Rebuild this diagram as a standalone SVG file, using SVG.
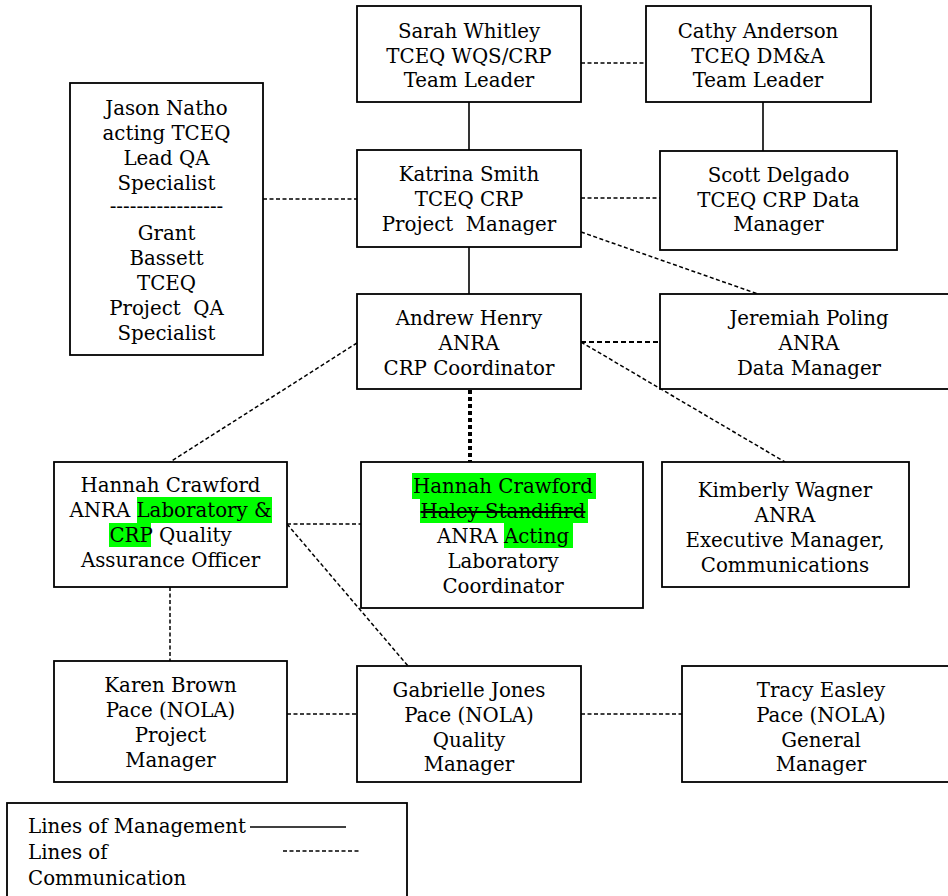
<svg xmlns="http://www.w3.org/2000/svg" width="948" height="896" viewBox="0 0 948 896">
<style>
.box{fill:#fff;stroke:#000;stroke-width:1.8}
.t{font-family:"DejaVu Serif","Liberation Serif",serif;font-size:19.8px;fill:#000;text-anchor:middle}
.lt{font-family:"DejaVu Serif","Liberation Serif",serif;font-size:19.8px;fill:#000}
.mg{stroke:#000;stroke-width:1.6;fill:none}
.cm{stroke:#000;stroke-width:1.5;stroke-dasharray:4 2.5;fill:none}
.cm2{stroke:#000;stroke-width:2.2;stroke-dasharray:5 3;fill:none}
.dot{stroke:#000;stroke-width:4;stroke-dasharray:4 3;fill:none}
.hl{fill:#00ff00}
</style>
<rect width="948" height="896" fill="#fff"/>
<g id="connectors">
<line class="cm" x1="581" y1="63" x2="646" y2="63"/>
<line class="mg" x1="469" y1="102" x2="469" y2="150"/>
<line class="mg" x1="763" y1="102" x2="763" y2="151"/>
<line class="cm" x1="263" y1="199" x2="357" y2="199"/>
<line class="cm" x1="581" y1="198" x2="660" y2="198"/>
<line class="cm" x1="581" y1="232" x2="758" y2="294"/>
<line class="mg" x1="469" y1="247" x2="469" y2="294"/>
<line class="cm2" x1="581" y1="342" x2="660" y2="342"/>
<line class="cm" x1="581" y1="342" x2="785" y2="462"/>
<line class="cm" x1="357" y1="343" x2="170" y2="462"/>
<line class="dot" x1="470" y1="390" x2="470" y2="462"/>
<line class="cm" x1="287" y1="524" x2="361" y2="524"/>
<line class="cm" x1="287" y1="524" x2="408" y2="666"/>
<line class="cm" x1="170" y1="587" x2="170" y2="661"/>
<line class="cm" x1="287" y1="714" x2="357" y2="714"/>
<line class="cm" x1="581" y1="714" x2="682" y2="714"/>
</g>
<g id="sarah">
<rect class="box" x="357" y="6" width="224" height="96"/>
<text class="t" x="469" y="38">Sarah Whitley</text>
<text class="t" x="469" y="63">TCEQ WQS/CRP</text>
<text class="t" x="469" y="87">Team Leader</text>
</g>
<g id="cathy">
<rect class="box" x="646" y="6" width="225" height="96"/>
<text class="t" x="758" y="38">Cathy Anderson</text>
<text class="t" x="758" y="63">TCEQ DM&amp;A</text>
<text class="t" x="758" y="87">Team Leader</text>
</g>
<g id="jason">
<rect class="box" x="70" y="83" width="193" height="272"/>
<text class="t" x="166.5" y="115">Jason Natho</text>
<text class="t" x="166.5" y="140">acting TCEQ</text>
<text class="t" x="166.5" y="165">Lead QA</text>
<text class="t" x="166.5" y="190">Specialist</text>
<text class="t" x="166.5" y="213">-----------------</text>
<text class="t" x="166.5" y="240">Grant</text>
<text class="t" x="166.5" y="265">Bassett</text>
<text class="t" x="166.5" y="290">TCEQ</text>
<text class="t" x="166.5" y="315" xml:space="preserve">Project  QA</text>
<text class="t" x="166.5" y="340">Specialist</text>
</g>
<g id="katrina">
<rect class="box" x="357" y="150" width="224" height="97"/>
<text class="t" x="469" y="181">Katrina Smith</text>
<text class="t" x="469" y="206">TCEQ CRP</text>
<text class="t" x="469" y="231" xml:space="preserve">Project  Manager</text>
</g>
<g id="scott">
<rect class="box" x="660" y="151" width="237" height="99"/>
<text class="t" x="778.5" y="182">Scott Delgado</text>
<text class="t" x="778.5" y="207">TCEQ CRP Data</text>
<text class="t" x="778.5" y="231">Manager</text>
</g>
<g id="andrew">
<rect class="box" x="357" y="294" width="224" height="95"/>
<text class="t" x="469" y="325">Andrew Henry</text>
<text class="t" x="469" y="350">ANRA</text>
<text class="t" x="469" y="375">CRP Coordinator</text>
</g>
<g id="jeremiah">
<rect class="box" x="660" y="294" width="298" height="95"/>
<text class="t" x="809" y="325">Jeremiah Poling</text>
<text class="t" x="809" y="350">ANRA</text>
<text class="t" x="809" y="375">Data Manager</text>
</g>
<g id="hannah-qao">
<rect class="box" x="54" y="462" width="233" height="125"/>
<rect class="hl" x="137" y="497" width="135" height="26"/>
<rect class="hl" x="109" y="523" width="42" height="24"/>
<text class="t" x="170.5" y="492">Hannah Crawford</text>
<text class="t" x="170.5" y="517">ANRA Laboratory &amp;</text>
<text class="t" x="170.5" y="542">CRP Quality</text>
<text class="t" x="170.5" y="567">Assurance Officer</text>
</g>
<g id="hannah-lab">
<rect class="box" x="361" y="462" width="282" height="146"/>
<rect class="hl" x="412" y="473" width="184" height="26"/>
<rect class="hl" x="420" y="499" width="168" height="24"/>
<rect class="hl" x="504" y="523" width="69" height="25"/>
<text class="t" x="503" y="493">Hannah Crawford</text>
<text class="t" x="503" y="518" style="text-decoration:line-through">Haley Standifird</text>
<text class="t" x="503" y="543">ANRA Acting</text>
<text class="t" x="503" y="568">Laboratory</text>
<text class="t" x="503" y="593">Coordinator</text>
</g>
<g id="kimberly">
<rect class="box" x="662" y="462" width="247" height="125"/>
<text class="t" x="785" y="497">Kimberly Wagner</text>
<text class="t" x="785" y="522">ANRA</text>
<text class="t" x="785" y="547">Executive Manager,</text>
<text class="t" x="785" y="572">Communications</text>
</g>
<g id="karen">
<rect class="box" x="54" y="661" width="233" height="121"/>
<text class="t" x="170.5" y="692">Karen Brown</text>
<text class="t" x="170.5" y="717">Pace (NOLA)</text>
<text class="t" x="170.5" y="742">Project</text>
<text class="t" x="170.5" y="767">Manager</text>
</g>
<g id="gabrielle">
<rect class="box" x="357" y="666" width="224" height="116"/>
<text class="t" x="469" y="697">Gabrielle Jones</text>
<text class="t" x="469" y="722">Pace (NOLA)</text>
<text class="t" x="469" y="747">Quality</text>
<text class="t" x="469" y="771">Manager</text>
</g>
<g id="tracy">
<rect class="box" x="682" y="666" width="278" height="116"/>
<text class="t" x="821" y="697">Tracy Easley</text>
<text class="t" x="821" y="722">Pace (NOLA)</text>
<text class="t" x="821" y="747">General</text>
<text class="t" x="821" y="771">Manager</text>
</g>
<g id="legend">
<rect class="box" x="7" y="803" width="400" height="100"/>
<text class="lt" x="28" y="833">Lines of Management</text>
<text class="lt" x="28" y="859">Lines of</text>
<text class="lt" x="28" y="885">Communication</text>
<line class="mg" x1="250" y1="827" x2="346" y2="827"/>
<line class="cm" x1="283" y1="851" x2="360" y2="851"/>
</g>
</svg>
